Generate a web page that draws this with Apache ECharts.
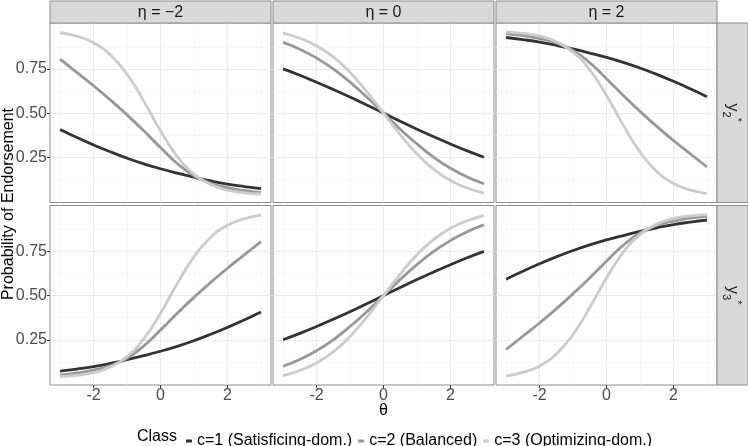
<!DOCTYPE html>
<html>
<head>
<meta charset="utf-8">
<script src="https://cdn.jsdelivr.net/npm/echarts@6/dist/echarts.min.js"></script>
<style>
    html, body { margin: 0; padding: 0; background: #fff; }
    #main { width: 748px; height: 446px; }
</style>
</head>
<body>
<div id="main"></div>
<script>
// theta grid the curves were read at
var theta = [-3, -2.5, -2, -1.5, -1, -0.5, 0, 0.5, 1, 1.5, 2, 2.5, 3];

var etaLabels = ['η = −2', 'η = 0', 'η = 2'];
var rowLabels = ['{b|y}{s|2}{t|*}', '{b|y}{s|3}{t|*}'];
var classNames = ['c=1 (Satisficing-dom.)', 'c=2 (Balanced)', 'c=3 (Optimizing-dom.)'];

var xMajor = [-2, 0, 2];
var xMinor = [-3, -1, 1, 3];
var yMajor = [0.25, 0.5, 0.75];
var yMinor = [0.125, 0.375, 0.625, 0.875];

// y2*, one row per class (c=1, c=2, c=3)
var y2EtaM2 = [
    [0.407, 0.362, 0.320, 0.281, 0.245, 0.213, 0.185, 0.160, 0.137, 0.116, 0.098, 0.084, 0.072],
    [0.805, 0.730, 0.655, 0.575, 0.490, 0.400, 0.305, 0.215, 0.145, 0.103, 0.078, 0.062, 0.050],
    [0.956, 0.935, 0.898, 0.830, 0.720, 0.568, 0.400, 0.255, 0.155, 0.096, 0.064, 0.049, 0.042]
];
var y2Eta0 = [
    [0.750, 0.714, 0.675, 0.634, 0.591, 0.546, 0.500, 0.454, 0.409, 0.366, 0.325, 0.286, 0.250],
    [0.900, 0.862, 0.812, 0.750, 0.675, 0.591, 0.500, 0.409, 0.325, 0.250, 0.188, 0.138, 0.100],
    [0.953, 0.924, 0.881, 0.818, 0.731, 0.622, 0.500, 0.378, 0.269, 0.182, 0.119, 0.076, 0.047]
];
var y2Eta2 = [
    [0.928, 0.916, 0.902, 0.884, 0.863, 0.840, 0.815, 0.787, 0.755, 0.719, 0.680, 0.638, 0.593],
    [0.950, 0.938, 0.922, 0.897, 0.855, 0.785, 0.695, 0.600, 0.510, 0.425, 0.345, 0.270, 0.195],
    [0.958, 0.951, 0.936, 0.904, 0.845, 0.745, 0.600, 0.432, 0.280, 0.170, 0.102, 0.065, 0.044]
];
// y3*
var y3EtaM2 = [
    [0.072, 0.084, 0.098, 0.116, 0.137, 0.160, 0.185, 0.213, 0.245, 0.281, 0.320, 0.362, 0.407],
    [0.050, 0.062, 0.078, 0.103, 0.145, 0.215, 0.305, 0.400, 0.490, 0.575, 0.655, 0.730, 0.805],
    [0.042, 0.049, 0.064, 0.096, 0.155, 0.255, 0.400, 0.568, 0.720, 0.830, 0.898, 0.935, 0.956]
];
var y3Eta0 = [
    [0.250, 0.286, 0.325, 0.366, 0.409, 0.454, 0.500, 0.546, 0.591, 0.634, 0.675, 0.714, 0.750],
    [0.100, 0.138, 0.188, 0.250, 0.325, 0.409, 0.500, 0.591, 0.675, 0.750, 0.812, 0.862, 0.900],
    [0.047, 0.076, 0.119, 0.182, 0.269, 0.378, 0.500, 0.622, 0.731, 0.818, 0.881, 0.924, 0.953]
];
var y3Eta2 = [
    [0.593, 0.638, 0.680, 0.719, 0.755, 0.787, 0.815, 0.840, 0.863, 0.884, 0.902, 0.916, 0.928],
    [0.195, 0.270, 0.345, 0.425, 0.510, 0.600, 0.695, 0.785, 0.855, 0.897, 0.922, 0.938, 0.950],
    [0.044, 0.065, 0.102, 0.170, 0.280, 0.432, 0.600, 0.745, 0.845, 0.904, 0.936, 0.951, 0.958]
];

var panels = [y2EtaM2, y2Eta0, y2Eta2, y3EtaM2, y3Eta0, y3Eta2];
var classColors = ['#333333', '#989898', '#cccccc'];

var font = '"Liberation Sans", Arial, Helvetica, sans-serif';
var borderColor = '#8c8c8c';
var colLeft = [50, 273, 496];
var colWidth = 221;
var rowTop = [23, 205.5];
var rowHeight = 179.5;

var chart = echarts.init(document.getElementById('main'), null, {renderer: 'canvas'});

var grids = [], xAxes = [], yAxes = [], series = [], graphics = [];

for (var r = 0; r < 2; r++) {
    for (var c = 0; c < 3; c++) {
        var i = r * 3 + c;
        grids.push({
            left: colLeft[c], top: rowTop[r], width: colWidth, height: rowHeight,
            show: true, borderColor: borderColor, borderWidth: 1, backgroundColor: '#fff'
        });
        // minor grid lines
        xAxes.push({
            gridIndex: i, type: 'value', position: 'top', min: -3.3, max: 3.3,
            axisLine: {show: false, onZero: false},
            axisTick: {show: false, customValues: xMinor},
            axisLabel: {show: false, customValues: xMinor},
            splitLine: {show: true, lineStyle: {color: '#f4f4f4', width: 0.6}}
        });
        xAxes.push({
            gridIndex: i, type: 'value', position: 'bottom', min: -3.3, max: 3.3,
            axisLine: {show: false, onZero: false},
            axisTick: {show: r === 1, customValues: xMajor, length: 3, lineStyle: {color: '#333'}},
            axisLabel: {show: r === 1, customValues: xMajor, color: '#4d4d4d', fontSize: 16,
                        fontFamily: font, margin: 3},
            splitLine: {show: true, lineStyle: {color: '#ebebeb', width: 1}}
        });
        yAxes.push({
            gridIndex: i, type: 'value', position: 'right', min: -0.006, max: 1.01,
            axisLine: {show: false, onZero: false},
            axisTick: {show: false, customValues: yMinor},
            axisLabel: {show: false, customValues: yMinor},
            splitLine: {show: true, lineStyle: {color: '#f4f4f4', width: 0.6}}
        });
        yAxes.push({
            gridIndex: i, type: 'value', position: 'left', min: -0.006, max: 1.01,
            axisLine: {show: false, onZero: false},
            axisTick: {show: c === 0, customValues: yMajor, length: 3, lineStyle: {color: '#333'}},
            axisLabel: {show: c === 0, customValues: yMajor, color: '#4d4d4d', fontSize: 16,
                        fontFamily: font, margin: 3,
                        formatter: function (v) { return v.toFixed(2); }},
            splitLine: {show: true, lineStyle: {color: '#ebebeb', width: 1}}
        });
        for (var k = 0; k < 3; k++) {
            series.push({
                type: 'line',
                name: classNames[k],
                xAxisIndex: 2 * i + 1,
                yAxisIndex: 2 * i + 1,
                data: theta.map(function (t, j) { return [t, panels[i][k][j]]; }),
                showSymbol: false,
                smooth: 0.5,
                lineStyle: {width: 2.8, color: classColors[k]},
                itemStyle: {color: classColors[k]},
                z: 3
            });
        }
    }
}

// facet strips along the top
for (var c2 = 0; c2 < 3; c2++) {
    graphics.push({
        type: 'rect', z: 10,
        shape: {x: colLeft[c2], y: 1, width: colWidth, height: 22},
        style: {fill: '#d9d9d9', stroke: borderColor, lineWidth: 1}
    });
    graphics.push({
        type: 'text', z: 11,
        x: colLeft[c2] + colWidth / 2, y: 12.5,
        style: {text: etaLabels[c2], align: 'center', verticalAlign: 'middle',
                font: '16px ' + font, fill: '#1a1a1a'}
    });
}
// facet strips on the right
for (var r2 = 0; r2 < 2; r2++) {
    graphics.push({
        type: 'rect', z: 10,
        shape: {x: 717, y: rowTop[r2], width: 31, height: rowHeight},
        style: {fill: '#d9d9d9', stroke: borderColor, lineWidth: 1}
    });
    graphics.push({
        type: 'text', z: 11,
        x: 732, y: rowTop[r2] + rowHeight / 2, rotation: -Math.PI / 2,
        style: {
            text: rowLabels[r2], align: 'center', verticalAlign: 'middle', fill: '#1a1a1a',
            rich: {
                b: {fontSize: 16, lineHeight: 22, fontFamily: font, fill: '#1a1a1a'},
                s: {fontSize: 11, lineHeight: 11, fontFamily: font, verticalAlign: 'bottom', fill: '#1a1a1a'},
                t: {fontSize: 11, lineHeight: 11, fontFamily: font, verticalAlign: 'top', fill: '#1a1a1a'}
            }
        }
    });
}
// axis titles
graphics.push({
    type: 'text', x: 9, y: 204, rotation: Math.PI / 2,
    style: {text: 'Probability of Endorsement', align: 'center', verticalAlign: 'middle',
            font: '16px ' + font, fill: '#000'}
});
graphics.push({
    type: 'text', x: 383.5, y: 411,
    style: {text: 'θ', align: 'center', verticalAlign: 'middle', font: '16px ' + font, fill: '#000'}
});
graphics.push({
    type: 'text', x: 137, y: 437,
    style: {text: 'Class', align: 'left', verticalAlign: 'middle', font: '16px ' + font, fill: '#000'}
});

chart.setOption({
    animation: false,
    backgroundColor: '#fff',
    grid: grids,
    xAxis: xAxes,
    yAxis: yAxes,
    legend: {
        left: 181, top: 428,
        icon: 'rect', itemWidth: 6, itemHeight: 3, itemGap: 6,
        data: classNames,
        textStyle: {fontSize: 16, color: '#000', fontFamily: font}
    },
    graphic: graphics,
    series: series
});
</script>
</body>
</html>
